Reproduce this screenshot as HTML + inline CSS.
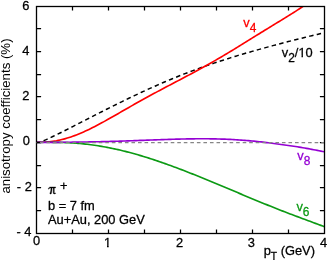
<!DOCTYPE html>
<html><head><meta charset="utf-8"><title>chart</title>
<style>text{stroke-width:0.28px;stroke-linejoin:round}html,body{margin:0;padding:0;background:#fff;overflow:hidden}body{width:327px;height:260px;position:relative;font-family:"Liberation Sans",sans-serif}</style></head>
<body>
<svg width="327" height="260" viewBox="0 0 327 260" style="position:absolute;left:0;top:0;will-change:transform;-webkit-font-smoothing:antialiased;font-family:'Liberation Sans',sans-serif;font-size:12.85px">
<rect width="327" height="260" fill="#fff"/>
<defs><clipPath id="c"><rect x="36.5" y="6.50" width="288.00" height="227.00"/></clipPath></defs>
<g clip-path="url(#c)" fill="none" stroke-linecap="butt" stroke-linejoin="round">
<path d="M36.50,142.30 L38.31,142.17 L40.12,141.81 L41.93,141.27 L43.75,140.62 L45.56,139.88 L47.37,139.09 L49.18,138.27 L50.99,137.42 L52.80,136.55 L54.61,135.67 L56.42,134.78 L58.24,133.88 L60.05,132.98 L61.86,132.07 L63.67,131.16 L65.48,130.24 L67.29,129.32 L69.10,128.40 L70.92,127.48 L72.73,126.56 L74.54,125.63 L76.35,124.70 L78.16,123.78 L79.97,122.85 L81.78,121.92 L83.59,121.00 L85.41,120.07 L87.22,119.14 L89.03,118.21 L90.84,117.29 L92.65,116.36 L94.46,115.44 L96.27,114.52 L98.08,113.59 L99.90,112.67 L101.71,111.75 L103.52,110.84 L105.33,109.92 L107.14,109.01 L108.95,108.10 L110.76,107.19 L112.58,106.29 L114.39,105.38 L116.20,104.48 L118.01,103.59 L119.82,102.69 L121.63,101.80 L123.44,100.91 L125.25,100.03 L127.07,99.15 L128.88,98.27 L130.69,97.40 L132.50,96.53 L134.31,95.67 L136.12,94.81 L137.93,93.96 L139.75,93.11 L141.56,92.26 L143.37,91.42 L145.18,90.59 L146.99,89.76 L148.80,88.93 L150.61,88.11 L152.42,87.30 L154.24,86.49 L156.05,85.69 L157.86,84.89 L159.67,84.10 L161.48,83.31 L163.29,82.53 L165.10,81.76 L166.92,80.99 L168.73,80.23 L170.54,79.47 L172.35,78.72 L174.16,77.98 L175.97,77.24 L177.78,76.51 L179.59,75.78 L181.41,75.06 L183.22,74.35 L185.03,73.64 L186.84,72.94 L188.65,72.25 L190.46,71.56 L192.27,70.88 L194.08,70.20 L195.90,69.53 L197.71,68.87 L199.52,68.21 L201.33,67.56 L203.14,66.91 L204.95,66.27 L206.76,65.63 L208.58,65.01 L210.39,64.38 L212.20,63.76 L214.01,63.15 L215.82,62.54 L217.63,61.94 L219.44,61.35 L221.25,60.76 L223.07,60.17 L224.88,59.59 L226.69,59.01 L228.50,58.44 L230.31,57.87 L232.12,57.31 L233.93,56.75 L235.75,56.20 L237.56,55.65 L239.37,55.11 L241.18,54.56 L242.99,54.03 L244.80,53.49 L246.61,52.96 L248.42,52.44 L250.24,51.92 L252.05,51.40 L253.86,50.88 L255.67,50.37 L257.48,49.86 L259.29,49.35 L261.10,48.85 L262.92,48.35 L264.73,47.85 L266.54,47.35 L268.35,46.86 L270.16,46.37 L271.97,45.88 L273.78,45.39 L275.59,44.91 L277.41,44.43 L279.22,43.95 L281.03,43.47 L282.84,42.99 L284.65,42.52 L286.46,42.05 L288.27,41.58 L290.08,41.11 L291.90,40.65 L293.71,40.19 L295.52,39.73 L297.33,39.27 L299.14,38.81 L300.95,38.36 L302.76,37.91 L304.58,37.46 L306.39,37.02 L308.20,36.57 L310.01,36.13 L311.82,35.70 L313.63,35.27 L315.44,34.84 L317.25,34.41 L319.07,33.99 L320.88,33.58 L322.69,33.16 L324.50,32.76" stroke="#000" stroke-width="1.5" stroke-dasharray="4.45,3.29" stroke-dashoffset="0.48"/>
<path d="M36.50,142.30 L38.31,142.29 L40.12,142.26 L41.93,142.21 L43.75,142.13 L45.56,142.02 L47.37,141.88 L49.18,141.71 L50.99,141.51 L52.80,141.27 L54.61,140.99 L56.42,140.69 L58.24,140.34 L60.05,139.96 L61.86,139.54 L63.67,139.09 L65.48,138.60 L67.29,138.08 L69.10,137.52 L70.92,136.93 L72.73,136.30 L74.54,135.65 L76.35,134.96 L78.16,134.24 L79.97,133.50 L81.78,132.73 L83.59,131.93 L85.41,131.11 L87.22,130.26 L89.03,129.40 L90.84,128.51 L92.65,127.61 L94.46,126.68 L96.27,125.74 L98.08,124.79 L99.90,123.82 L101.71,122.84 L103.52,121.85 L105.33,120.85 L107.14,119.84 L108.95,118.82 L110.76,117.80 L112.58,116.77 L114.39,115.74 L116.20,114.70 L118.01,113.66 L119.82,112.62 L121.63,111.58 L123.44,110.54 L125.25,109.51 L127.07,108.47 L128.88,107.43 L130.69,106.40 L132.50,105.37 L134.31,104.34 L136.12,103.32 L137.93,102.30 L139.75,101.29 L141.56,100.28 L143.37,99.27 L145.18,98.27 L146.99,97.27 L148.80,96.28 L150.61,95.29 L152.42,94.31 L154.24,93.33 L156.05,92.36 L157.86,91.39 L159.67,90.42 L161.48,89.46 L163.29,88.50 L165.10,87.54 L166.92,86.58 L168.73,85.63 L170.54,84.68 L172.35,83.73 L174.16,82.77 L175.97,81.82 L177.78,80.87 L179.59,79.92 L181.41,78.97 L183.22,78.01 L185.03,77.05 L186.84,76.10 L188.65,75.13 L190.46,74.17 L192.27,73.20 L194.08,72.22 L195.90,71.24 L197.71,70.26 L199.52,69.27 L201.33,68.28 L203.14,67.28 L204.95,66.27 L206.76,65.26 L208.58,64.24 L210.39,63.22 L212.20,62.19 L214.01,61.15 L215.82,60.11 L217.63,59.06 L219.44,58.00 L221.25,56.94 L223.07,55.87 L224.88,54.80 L226.69,53.72 L228.50,52.63 L230.31,51.54 L232.12,50.44 L233.93,49.34 L235.75,48.24 L237.56,47.13 L239.37,46.01 L241.18,44.90 L242.99,43.78 L244.80,42.66 L246.61,41.54 L248.42,40.42 L250.24,39.29 L252.05,38.17 L253.86,37.04 L255.67,35.92 L257.48,34.80 L259.29,33.68 L261.10,32.56 L262.92,31.44 L264.73,30.32 L266.54,29.21 L268.35,28.10 L270.16,26.99 L271.97,25.88 L273.78,24.78 L275.59,23.67 L277.41,22.57 L279.22,21.46 L281.03,20.36 L282.84,19.26 L284.65,18.15 L286.46,17.03 L288.27,15.92 L290.08,14.79 L291.90,13.66 L293.71,12.51 L295.52,11.35 L297.33,10.17 L299.14,8.97 L300.95,7.74 L302.76,6.49 L304.58,5.20 L306.39,3.88 L308.20,2.51 L310.01,1.10 L311.82,-0.37 L313.63,-1.90 L315.44,-3.50 L317.25,-5.17 L319.07,-6.93 L320.88,-8.78 L322.69,-10.73 L324.50,-12.80" stroke="#ff0000" stroke-width="1.65"/>
<path d="M36.50,142.30 L38.31,142.30 L40.12,142.30 L41.93,142.29 L43.75,142.29 L45.56,142.29 L47.37,142.29 L49.18,142.29 L50.99,142.30 L52.80,142.31 L54.61,142.33 L56.42,142.36 L58.24,142.39 L60.05,142.43 L61.86,142.48 L63.67,142.54 L65.48,142.61 L67.29,142.69 L69.10,142.78 L70.92,142.88 L72.73,142.99 L74.54,143.11 L76.35,143.24 L78.16,143.39 L79.97,143.55 L81.78,143.72 L83.59,143.90 L85.41,144.09 L87.22,144.29 L89.03,144.51 L90.84,144.74 L92.65,144.98 L94.46,145.24 L96.27,145.51 L98.08,145.78 L99.90,146.08 L101.71,146.38 L103.52,146.70 L105.33,147.02 L107.14,147.36 L108.95,147.72 L110.76,148.08 L112.58,148.45 L114.39,148.84 L116.20,149.24 L118.01,149.65 L119.82,150.07 L121.63,150.50 L123.44,150.94 L125.25,151.39 L127.07,151.85 L128.88,152.32 L130.69,152.80 L132.50,153.30 L134.31,153.80 L136.12,154.31 L137.93,154.83 L139.75,155.36 L141.56,155.90 L143.37,156.44 L145.18,157.00 L146.99,157.56 L148.80,158.13 L150.61,158.71 L152.42,159.30 L154.24,159.90 L156.05,160.50 L157.86,161.11 L159.67,161.73 L161.48,162.35 L163.29,162.98 L165.10,163.62 L166.92,164.26 L168.73,164.92 L170.54,165.57 L172.35,166.23 L174.16,166.90 L175.97,167.58 L177.78,168.25 L179.59,168.94 L181.41,169.63 L183.22,170.32 L185.03,171.02 L186.84,171.73 L188.65,172.43 L190.46,173.15 L192.27,173.86 L194.08,174.58 L195.90,175.31 L197.71,176.03 L199.52,176.77 L201.33,177.50 L203.14,178.24 L204.95,178.98 L206.76,179.72 L208.58,180.47 L210.39,181.21 L212.20,181.97 L214.01,182.72 L215.82,183.47 L217.63,184.23 L219.44,184.99 L221.25,185.74 L223.07,186.50 L224.88,187.27 L226.69,188.03 L228.50,188.79 L230.31,189.55 L232.12,190.32 L233.93,191.08 L235.75,191.84 L237.56,192.61 L239.37,193.37 L241.18,194.13 L242.99,194.89 L244.80,195.65 L246.61,196.41 L248.42,197.17 L250.24,197.92 L252.05,198.68 L253.86,199.43 L255.67,200.18 L257.48,200.93 L259.29,201.68 L261.10,202.42 L262.92,203.16 L264.73,203.90 L266.54,204.63 L268.35,205.37 L270.16,206.10 L271.97,206.82 L273.78,207.55 L275.59,208.27 L277.41,208.98 L279.22,209.70 L281.03,210.41 L282.84,211.11 L284.65,211.81 L286.46,212.51 L288.27,213.21 L290.08,213.90 L291.90,214.59 L293.71,215.28 L295.52,215.96 L297.33,216.64 L299.14,217.32 L300.95,218.00 L302.76,218.67 L304.58,219.34 L306.39,220.01 L308.20,220.68 L310.01,221.35 L311.82,222.02 L313.63,222.69 L315.44,223.36 L317.25,224.03 L319.07,224.70 L320.88,225.38 L322.69,226.06 L324.50,226.74" stroke="#0c9a14" stroke-width="1.65"/>
<path d="M36.50,142.40 L38.31,142.40 L40.12,142.40 L41.93,142.39 L43.75,142.39 L45.56,142.39 L47.37,142.38 L49.18,142.37 L50.99,142.36 L52.80,142.36 L54.61,142.35 L56.42,142.33 L58.24,142.32 L60.05,142.31 L61.86,142.29 L63.67,142.28 L65.48,142.26 L67.29,142.24 L69.10,142.22 L70.92,142.20 L72.73,142.18 L74.54,142.16 L76.35,142.14 L78.16,142.11 L79.97,142.08 L81.78,142.06 L83.59,142.03 L85.41,142.00 L87.22,141.96 L89.03,141.93 L90.84,141.90 L92.65,141.86 L94.46,141.82 L96.27,141.78 L98.08,141.74 L99.90,141.70 L101.71,141.66 L103.52,141.61 L105.33,141.56 L107.14,141.52 L108.95,141.47 L110.76,141.42 L112.58,141.36 L114.39,141.31 L116.20,141.25 L118.01,141.20 L119.82,141.14 L121.63,141.08 L123.44,141.02 L125.25,140.96 L127.07,140.90 L128.88,140.84 L130.69,140.77 L132.50,140.71 L134.31,140.64 L136.12,140.58 L137.93,140.51 L139.75,140.44 L141.56,140.38 L143.37,140.31 L145.18,140.24 L146.99,140.17 L148.80,140.10 L150.61,140.04 L152.42,139.97 L154.24,139.90 L156.05,139.83 L157.86,139.77 L159.67,139.70 L161.48,139.64 L163.29,139.57 L165.10,139.51 L166.92,139.45 L168.73,139.39 L170.54,139.34 L172.35,139.28 L174.16,139.23 L175.97,139.17 L177.78,139.12 L179.59,139.08 L181.41,139.03 L183.22,138.99 L185.03,138.95 L186.84,138.92 L188.65,138.89 L190.46,138.86 L192.27,138.83 L194.08,138.81 L195.90,138.80 L197.71,138.78 L199.52,138.77 L201.33,138.77 L203.14,138.77 L204.95,138.78 L206.76,138.79 L208.58,138.80 L210.39,138.82 L212.20,138.85 L214.01,138.88 L215.82,138.92 L217.63,138.96 L219.44,139.01 L221.25,139.07 L223.07,139.13 L224.88,139.19 L226.69,139.27 L228.50,139.35 L230.31,139.44 L232.12,139.53 L233.93,139.63 L235.75,139.74 L237.56,139.85 L239.37,139.97 L241.18,140.10 L242.99,140.23 L244.80,140.37 L246.61,140.52 L248.42,140.67 L250.24,140.83 L252.05,141.00 L253.86,141.18 L255.67,141.36 L257.48,141.54 L259.29,141.74 L261.10,141.93 L262.92,142.14 L264.73,142.35 L266.54,142.57 L268.35,142.79 L270.16,143.01 L271.97,143.24 L273.78,143.48 L275.59,143.72 L277.41,143.96 L279.22,144.21 L281.03,144.46 L282.84,144.71 L284.65,144.96 L286.46,145.22 L288.27,145.48 L290.08,145.73 L291.90,145.99 L293.71,146.25 L295.52,146.52 L297.33,146.80 L299.14,147.09 L300.95,147.39 L302.76,147.70 L304.58,148.01 L306.39,148.34 L308.20,148.67 L310.01,149.01 L311.82,149.35 L313.63,149.70 L315.44,150.05 L317.25,150.40 L319.07,150.76 L320.88,151.11 L322.69,151.46 L324.50,151.81" stroke="#9400d3" stroke-width="1.65"/>
</g>
<rect x="36.5" y="6.50" width="288.00" height="227.00" fill="none" stroke="#000" stroke-width="1.3"/>
<path d="M72.5,233.5v-3.9 M72.5,6.5v3.9 M108.5,233.5v-3.9 M108.5,6.5v3.9 M144.5,233.5v-3.9 M144.5,6.5v3.9 M180.5,233.5v-3.9 M180.5,6.5v3.9 M216.5,233.5v-3.9 M216.5,6.5v3.9 M252.5,233.5v-3.9 M252.5,6.5v3.9 M288.5,233.5v-3.9 M288.5,6.5v3.9 M36.5,210.5h4.6 M324.5,210.5h-4.6 M36.5,187.5h4.6 M324.5,187.5h-4.6 M36.5,165.5h4.6 M324.5,165.5h-4.6 M36.5,142.5h4.6 M324.5,142.5h-4.6 M36.5,119.5h4.6 M324.5,119.5h-4.6 M36.5,96.5h4.6 M324.5,96.5h-4.6 M36.5,74.5h4.6 M324.5,74.5h-4.6 M36.5,51.5h4.6 M324.5,51.5h-4.6 M36.5,28.5h4.6 M324.5,28.5h-4.6" stroke="#000" stroke-width="1.25" fill="none"/>
<path d="M36.5,142.50 H323.85" fill="none" stroke="#868686" stroke-width="1.25" stroke-dasharray="3.6,2.942" stroke-dashoffset="3.17"/>
<text stroke="#000" x="29.5" y="10.1" text-anchor="end">6</text>
<text stroke="#000" x="29.5" y="54.6" text-anchor="end">4</text>
<text stroke="#000" x="29.4" y="100.2" text-anchor="end">2</text>
<text stroke="#000" x="29.95" y="144.8" text-anchor="end">0</text>
<text stroke="#000" x="31.8" y="190.8" text-anchor="end">- 2</text>
<text stroke="#000" x="31.4" y="236.0" text-anchor="end">- 4</text>
<text stroke="#000" x="36.50" y="245.1" text-anchor="middle">0</text>
<text stroke="#000" x="107.50" y="246.6" text-anchor="middle">1</text>
<text stroke="#000" x="179.60" y="246.6" text-anchor="middle">2</text>
<text stroke="#000" x="251.30" y="246.6" text-anchor="middle">3</text>
<text stroke="#000" x="323.50" y="246.6" text-anchor="middle">4</text>
<text transform="translate(9.8,193.6) rotate(-90)" font-size="13.25" stroke="none">anisotropy coefficients (%)</text>
<text stroke="#000" x="263.7" y="254.7">p<tspan font-size="10.28" dy="5.2">T</tspan><tspan dy="-5.2"> (GeV)</tspan></text>
<path role="img" aria-label="pi" fill="#000" stroke="#000" stroke-width="0.3" d="M48.2,188.9 C48.6,187.6 49.4,186.9 50.6,186.9 L55.6,186.9 L55.6,188.0 L50.8,188.0 C49.8,188.0 49.2,188.4 48.8,189.2 Z M50.9,188.0 L52.0,188.0 C52.0,190.5 51.8,192.5 51.2,193.9 C50.8,194.2 50.0,194.2 49.8,193.6 C50.6,192 50.9,190 50.9,188 Z M53.2,188 L54.3,188 L54.3,192.4 C54.3,193.0 54.7,193.2 55.6,192.9 L55.7,193.5 C54.6,194.3 53.2,194.2 53.2,192.8 Z"/>
<text stroke="#000" x="59.9" y="189.5">+</text>
<text stroke="#000" x="48.0" y="209.7">b = 7 fm</text>
<text stroke="#000" x="48.0" y="224.3">Au+Au, 200 GeV</text>
<text x="243.3" y="26.8" fill="#ff0000" stroke="#ff0000">v<tspan font-size="11.9" dy="4.9">4</tspan></text>
<text x="281.8" y="56.9" fill="#000" stroke="#000">v<tspan font-size="11.9" dy="5.3">2</tspan><tspan dy="-5.3">/10</tspan></text>
<text x="297.3" y="160.0" fill="#9400d3" stroke="#9400d3">v<tspan font-size="11.9" dy="4.9">8</tspan></text>
<text x="296.4" y="210.6" fill="#0c9a14" stroke="#0c9a14">v<tspan font-size="11.9" dy="4.9">6</tspan></text>
<path fill="#fff" d="M103.4,245.85h3.6v2.5h-3.6z M108.7,245.85h2.7v2.5h-2.7z M298.4,55.85h3.1v2.5h-3.1z M302.95,55.85h3.0v2.5h-3.0z"/>
</svg>
</body></html>
